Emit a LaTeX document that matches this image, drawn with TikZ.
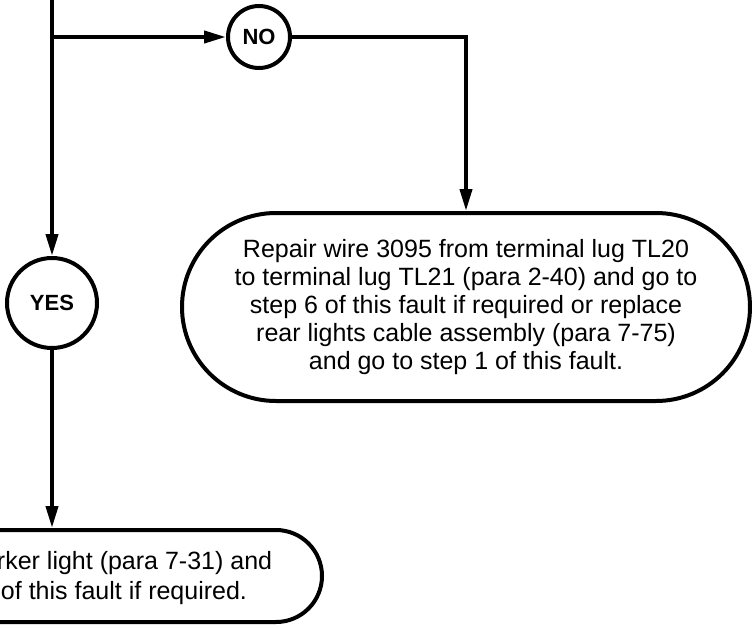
\documentclass[tikz,border=0pt]{standalone}
\usepackage{fontspec}
\setmainfont{Liberation Sans}
\usetikzlibrary{shapes.misc,arrows.meta,positioning}

\begin{document}
\begin{tikzpicture}[
  x=1pt, y=-1pt, line width=4pt,
  choice/.style={draw, circle, inner sep=0pt, font=\fontsize{22}{26}\selectfont\bfseries},
  action/.style={draw, rounded rectangle, align=center, inner sep=0pt, font=\fontsize{25}{28}\selectfont},
  txt/.style={align=left, inner sep=0pt, font=\fontsize{25}{30}\selectfont},
  arr/.style={-{Triangle[length=22pt, width=12pt]}}
]
\useasboundingbox (0,0) rectangle (752,627);

% Decision outcomes
\coordinate (feed) at (52,-10);
\coordinate (split) at (52,37);
\node[choice, minimum size=62pt] (no) at (259,37) {NO};
\node[choice, minimum size=90pt] (yes) at (52,303) {YES};

% Actions
\node[action, minimum width=568pt, minimum height=188pt] (repair) at (466,307)
  {Repair wire 3095 from terminal lug TL20\\to terminal lug TL21 (para 2-40) and go to\\step 6 of this fault if required or replace\\rear lights cable assembly (para 7-75)\\and go to step 1 of this fault.};
\node[action, minimum width=540pt, minimum height=92pt] (replace) at (52,576) {};
\node[txt, anchor=west] (replacetxt) at (-5,578) {rker light (para 7-31) and\\\hspace{4pt}of this fault if required.};

% Connectors
\draw (feed) -- (split);
\draw[arr] (split) -- (yes);
\draw[arr] (split) -- (no);
\draw[arr] (no) -| (repair);
\draw[arr] (yes) -- (replace);

\end{tikzpicture}
\end{document}
